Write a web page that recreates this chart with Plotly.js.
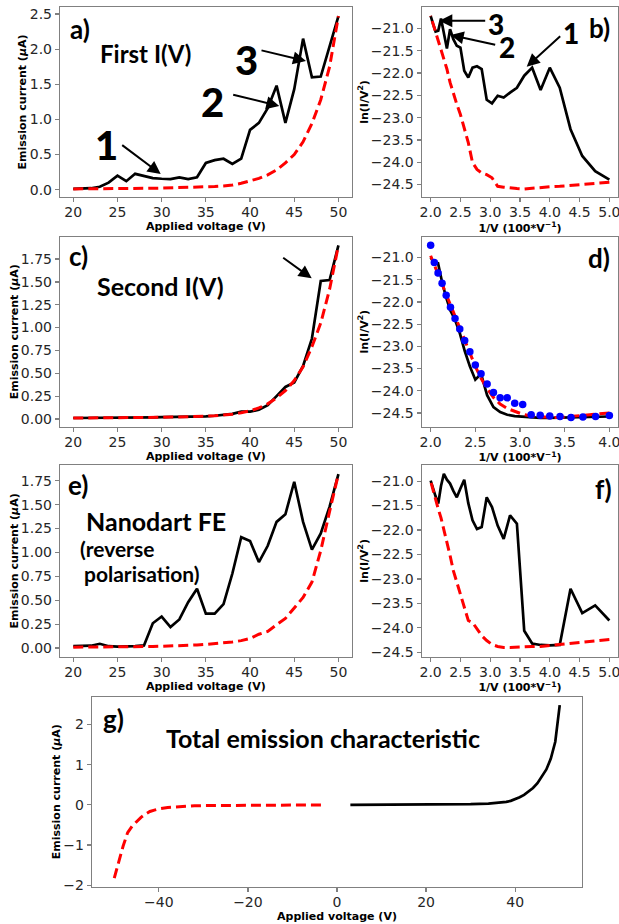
<!DOCTYPE html>
<html>
<head>
<meta charset="utf-8">
<script src="https://cdn.plot.ly/plotly-3.0.1.min.js"></script>
<style>html,body{margin:0;padding:0;background:#fff;}#chart{width:619px;height:924px;}</style>
</head>
<body>
<div id="chart"></div>
<script>
// ---------- data ----------
const voltage = [20,21,22,23,24,25,26,27,28,29,30,31,32,33,34,35,36,37,38,39,40,41,42,43,44,45,46,47,48,49,50];
const invV = [5.000,4.762,4.545,4.348,4.167,4.000,3.846,3.704,3.571,3.448,3.333,3.226,3.125,3.030,2.941,2.857,2.778,2.703,2.632,2.564,2.500,2.439,2.381,2.326,2.273,2.222,2.174,2.128,2.083,2.041,2.000];

// a) First I(V)
const aMeasured = [0.01,0.01,0.02,0.04,0.10,0.20,0.12,0.225,0.20,0.165,0.155,0.15,0.175,0.15,0.175,0.38,0.42,0.44,0.365,0.44,0.85,0.95,1.16,1.48,0.95,1.43,2.15,1.60,1.61,2.04,2.47];
const aFit = [0.01,0.01,0.01,0.01,0.012,0.013,0.015,0.016,0.018,0.02,0.022,0.024,0.026,0.029,0.033,0.038,0.044,0.052,0.065,0.09,0.12,0.16,0.21,0.28,0.38,0.50,0.68,0.94,1.28,1.75,2.47];
// b) FN plot of first I(V)
const bMeasured = [-24.39,-24.20,-23.86,-23.26,-22.33,-21.88,-22.38,-21.88,-22.06,-22.33,-22.44,-22.55,-22.51,-22.68,-22.60,-21.91,-21.85,-21.88,-22.10,-21.95,-21.43,-21.39,-21.24,-21.02,-21.45,-21.13,-20.78,-21.05,-21.07,-20.90,-20.72];
const bFit = [-24.45,-24.48,-24.50,-24.52,-24.54,-24.55,-24.57,-24.58,-24.60,-24.59,-24.58,-24.56,-24.54,-24.35,-24.28,-24.24,-24.16,-24.01,-23.56,-23.23,-22.93,-22.70,-22.44,-22.21,-21.91,-21.69,-21.50,-21.28,-21.09,-20.90,-20.72];
// c) Second I(V)
const cMeasured = [0.01,0.01,0.01,0.012,0.013,0.014,0.015,0.016,0.017,0.018,0.02,0.021,0.022,0.024,0.026,0.028,0.035,0.045,0.055,0.08,0.08,0.10,0.15,0.25,0.35,0.40,0.58,0.88,1.51,1.52,1.90];
const cFit = [0.01,0.01,0.01,0.011,0.012,0.013,0.014,0.015,0.016,0.017,0.018,0.02,0.021,0.023,0.026,0.03,0.035,0.042,0.052,0.068,0.088,0.12,0.165,0.23,0.31,0.42,0.57,0.79,1.05,1.42,1.90];
// d) FN plot of second I(V), voltages 25..50
const dInvV = [4.000,3.846,3.704,3.571,3.448,3.333,3.226,3.125,3.030,2.941,2.857,2.778,2.703,2.632,2.564,2.500,2.439,2.381,2.326,2.273,2.222,2.174,2.128,2.083,2.041,2.000];
const dMeasured = [-24.58,-24.59,-24.60,-24.61,-24.61,-24.61,-24.61,-24.60,-24.58,-24.57,-24.54,-24.48,-24.37,-24.10,-23.62,-23.75,-23.45,-23.10,-22.70,-22.40,-22.20,-21.90,-21.55,-21.13,-21.12,-21.00];
const dFit = [-24.50,-24.53,-24.56,-24.59,-24.60,-24.60,-24.59,-24.57,-24.53,-24.47,-24.40,-24.30,-24.15,-23.95,-23.72,-23.45,-23.15,-22.85,-22.55,-22.30,-22.05,-21.82,-21.60,-21.38,-21.17,-20.96];
const dPoints = [-24.56,-24.58,-24.59,-24.60,-24.58,-24.57,-24.55,-24.54,-24.31,-24.28,-24.16,-24.16,-24.04,-23.85,-23.62,-23.42,-23.12,-22.87,-22.61,-22.37,-22.12,-21.85,-21.58,-21.35,-21.11,-20.72];
// e) Nanodart FE (reverse polarisation)
const eMeasured = [0.02,0.025,0.025,0.045,0.02,0.015,0.015,0.02,0.028,0.26,0.33,0.22,0.30,0.48,0.62,0.36,0.36,0.46,0.78,1.16,1.12,0.90,1.07,1.32,1.40,1.74,1.32,1.03,1.20,1.48,1.82];
const eFit = [0.01,0.01,0.01,0.01,0.011,0.012,0.013,0.014,0.015,0.017,0.019,0.021,0.024,0.028,0.033,0.039,0.046,0.054,0.064,0.078,0.10,0.145,0.175,0.245,0.31,0.42,0.53,0.69,1.02,1.43,1.82];
// f) FN plot of nanodart FE
const fMeasured = [-23.85,-23.54,-23.70,-23.20,-24.35,-24.36,-24.35,-24.32,-24.06,-21.87,-21.70,-22.18,-21.91,-21.53,-21.33,-21.94,-21.98,-21.80,-21.45,-20.97,-21.15,-21.33,-21.20,-21.05,-20.97,-20.85,-21.10,-21.46,-21.31,-21.14,-20.99];
const fFit = [-24.24,-24.27,-24.30,-24.33,-24.35,-24.36,-24.38,-24.38,-24.39,-24.40,-24.40,-24.40,-24.38,-24.34,-24.26,-24.16,-24.02,-23.89,-23.85,-23.58,-23.30,-23.10,-22.83,-22.52,-22.25,-21.95,-21.75,-21.57,-21.36,-21.19,-21.00];
// g) Total emission characteristic
const gNegV = [-50,-49,-48,-47,-46,-45,-44,-43,-42,-41,-40,-38,-36,-34,-32,-30,-25,-20,-15,-10,-5,-3];
const gNegI = [-1.82,-1.42,-1.02,-0.69,-0.53,-0.42,-0.31,-0.23,-0.165,-0.13,-0.10,-0.064,-0.046,-0.033,-0.024,-0.019,-0.012,-0.008,-0.005,-0.003,-0.002,-0.001];
const gPosV = [3,5,10,15,20,25,30,34,36,38,39,40,41,42,43,44,45,46,47,48,49,50];
const gPosI = [0.0,0.0,0.001,0.002,0.004,0.007,0.017,0.03,0.045,0.075,0.10,0.14,0.19,0.25,0.33,0.42,0.54,0.70,0.88,1.15,1.57,2.48];

// ---------- styling ----------
const W = 619, H = 924;
const BLACK = {color:'#000000', width:2.7};
const RED = {color:'#ff0000', width:3, dash:'10px,5px'};
function line(x, y, xa, ya, style){ return {x:x, y:y, xaxis:xa, yaxis:ya, type:'scatter', mode:'lines', line:style, hoverinfo:'skip', showlegend:false}; }

const traces = [
  line(voltage, aMeasured, 'x', 'y', BLACK), line(voltage, aFit, 'x', 'y', RED),
  line(invV, bMeasured, 'x2', 'y2', BLACK), line(invV, bFit, 'x2', 'y2', RED),
  line(voltage, cMeasured, 'x3', 'y3', BLACK), line(voltage, cFit, 'x3', 'y3', RED),
  line(dInvV, dMeasured, 'x4', 'y4', BLACK), line(dInvV, dFit, 'x4', 'y4', RED),
  {x:dInvV, y:dPoints, xaxis:'x4', yaxis:'y4', type:'scatter', mode:'markers', marker:{color:'#0000ff', size:7.5}, showlegend:false, hoverinfo:'skip'},
  line(voltage, eMeasured, 'x5', 'y5', BLACK), line(voltage, eFit, 'x5', 'y5', RED),
  line(invV, fMeasured, 'x6', 'y6', BLACK), line(invV, fFit, 'x6', 'y6', RED),
  line(gNegV, gNegI, 'x7', 'y7', RED), line(gPosV, gPosI, 'x7', 'y7', BLACK)
];

const TICKF = {family:'DejaVu Sans', size:14, color:'#262626'};
const TITLEF = {family:'DejaVu Sans', size:11, color:'#000000'};
function axis(o){
  return Object.assign({showline:true, mirror:true, linecolor:'#808080', linewidth:1.2,
    ticks:'outside', ticklen:4, tickwidth:1.2, tickcolor:'#808080', showgrid:false, zeroline:false,
    tickfont:TICKF, ticklabeloverflow:'allow', fixedrange:true}, o);
}
function ttl(t, s){ return {text:'<b>'+t+'</b>', font:TITLEF, standoff:s}; }
const VT = 'Applied voltage (V)', IT = 'Emission current (<i>μ</i>A)', LT = 'ln(I/V<sup>2</sup>)', XT = '1/V (100*V<sup>−1</sup>)';

const LX = [60/W, 351.7/W], RX = [421.7/W, 618.3/W];
const R1 = [1-197/H, 1-7/H], R2 = [1-426.7/H, 1-236.7/H], R3 = [1-656.7/H, 1-465/H];
const XS = -2; // tick labels sit close to the bottom axis

const layout = {
  width:W, height:H, margin:{l:0,r:0,t:0,b:0}, paper_bgcolor:'#fff', plot_bgcolor:'#fff', showlegend:false,
  xaxis:  axis({domain:LX, anchor:'y',  range:[18.5,51.5], dtick:5, tick0:20, ticklabelstandoff:XS, title:ttl(VT,0)}),
  yaxis:  axis({domain:R1, anchor:'x',  range:[-0.105,2.6], dtick:0.5, tick0:0, tickformat:'.1f', title:ttl(IT,0)}),
  xaxis2: axis({domain:RX, anchor:'y2', range:[1.85,5.15], dtick:0.5, tick0:2, tickformat:'.1f', ticklabelstandoff:XS, title:ttl(XT,0)}),
  yaxis2: axis({domain:R1, anchor:'x2', range:[-24.78,-20.52], dtick:0.5, tick0:-21, tickformat:'.1f', title:ttl(LT,0)}),
  xaxis3: axis({domain:LX, anchor:'y3', range:[18.5,51.5], dtick:5, tick0:20, ticklabelstandoff:XS, title:ttl(VT,0)}),
  yaxis3: axis({domain:R2, anchor:'x3', range:[-0.085,1.995], dtick:0.25, tick0:0, tickformat:'.2f', title:ttl(IT,0)}),
  xaxis4: axis({domain:RX, anchor:'y4', range:[1.9,4.1], dtick:0.5, tick0:2, tickformat:'.1f', ticklabelstandoff:XS, title:ttl(XT,0)}),
  yaxis4: axis({domain:R2, anchor:'x4', range:[-24.81,-20.53], dtick:0.5, tick0:-21, tickformat:'.1f', title:ttl(LT,0)}),
  xaxis5: axis({domain:LX, anchor:'y5', range:[18.5,51.5], dtick:5, tick0:20, ticklabelstandoff:XS, title:ttl(VT,0)}),
  yaxis5: axis({domain:R3, anchor:'x5', range:[-0.09,1.915], dtick:0.25, tick0:0, tickformat:'.2f', title:ttl(IT,0)}),
  xaxis6: axis({domain:RX, anchor:'y6', range:[1.85,5.15], dtick:0.5, tick0:2, tickformat:'.1f', ticklabelstandoff:XS, title:ttl(XT,0)}),
  yaxis6: axis({domain:R3, anchor:'x6', range:[-24.59,-20.67], dtick:0.5, tick0:-21, tickformat:'.1f', title:ttl(LT,0)}),
  xaxis7: axis({domain:[92/W, 582/W], anchor:'y7', range:[-55,55], dtick:20, tick0:0, ticklabelstandoff:XS, title:ttl(VT,0)}),
  yaxis7: axis({domain:[1-886.7/H, 1-696.7/H], anchor:'x7', range:[-2.035,2.69], dtick:1, tick0:0, title:ttl(IT,0)}),
  annotations:[]
};

const ANN = 'Lato';
function txt(px, py, t, size, weight, xanchor){
  layout.annotations.push({xref:'paper', yref:'paper', x:px/W, y:1-py/H, text:t, showarrow:false,
    xanchor:xanchor||'center', yanchor:'middle', font:{family:ANN, size:size, color:'#000', weight:weight||700}});
}
function arrow(tx, ty, hx, hy){
  layout.annotations.push({xref:'paper', yref:'paper', x:hx/W, y:1-hy/H, ax:tx-hx, ay:ty-hy, text:'',
    showarrow:true, arrowhead:2, arrowsize:1.3, arrowwidth:2, arrowcolor:'#000', standoff:0, startstandoff:0});
}
// panel letters
txt(80, 29, 'a)', 26); txt(599, 28, 'b)', 26); txt(78, 256, 'c)', 26); txt(599, 258, 'd)', 26);
txt(77.5, 485, 'e)', 26); txt(603, 489, 'f)', 26); txt(113, 718.5, 'g)', 26);
// panel captions
txt(145.5, 54, 'First I(V)', 24);
txt(160, 286, 'Second I(V)', 25);
txt(156, 521, 'Nanodart FE', 25);
txt(78, 548, '(reverse', 21, 700, 'left');
txt(82, 573, 'polarisation)', 21, 700, 'left');
txt(322.5, 738, 'Total emission characteristic', 25);
// numbered markers, panel a
txt(106.5, 145, '1', 40, 900); txt(212, 101.5, '2', 40, 900); txt(246, 59.5, '3', 40, 900);
arrow(120.7, 144, 160.7, 174); arrow(231.7, 94.3, 279.3, 106); arrow(260, 50, 306, 61);
// numbered markers, panel b
txt(495.5, 24, '3', 28, 900); txt(506.5, 47, '2', 28, 900); txt(571, 33.5, '1', 28, 900);
arrow(486.7, 20.7, 439.3, 20.7); arrow(496.7, 45, 450.7, 35); arrow(561.7, 35, 526.7, 66.7);
// arrow, panel c
arrow(281.7, 256.7, 311.7, 278.3);

Plotly.newPlot('chart', traces, layout, {staticPlot:true, displayModeBar:false});
</script>
</body>
</html>
